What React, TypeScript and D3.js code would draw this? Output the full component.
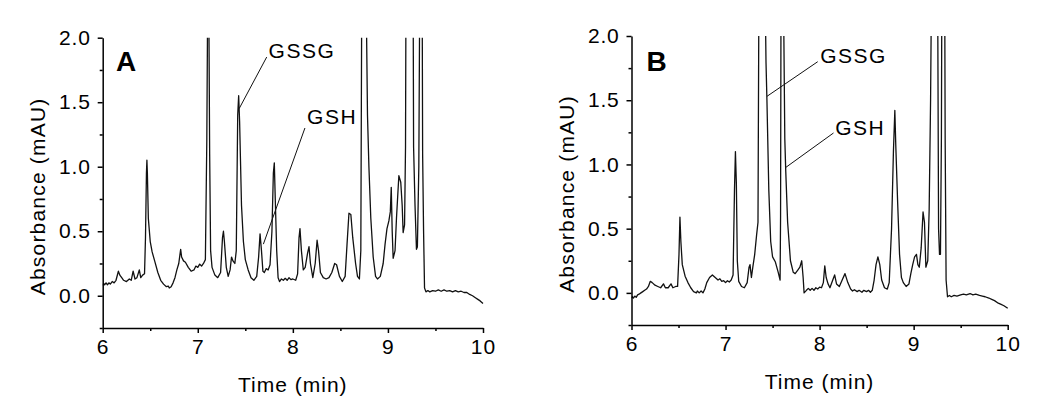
import React, { useEffect, useRef } from "react";
import * as d3 from "d3";

const W = 1050;
const H = 413;
const FONT = "Arial, 'Liberation Sans', sans-serif";

const timeTicks = [6, 7, 8, 9, 10];
const timeMinor = [6.5, 7.5, 8.5, 9.5];
const absTicks = [0, 0.5, 1.0, 1.5, 2.0];
const absMinor = [-0.25, 0.25, 0.75, 1.25, 1.75];

// electropherogram A, [time (min), absorbance (mAU)]
const traceA: [number, number][] = [
  [6.0, 0.08], [6.01, 0.095], [6.02, 0.085], [6.035, 0.1], [6.05, 0.085], [6.065, 0.1],
  [6.08, 0.09], [6.1, 0.11], [6.12, 0.1], [6.14, 0.12], [6.165, 0.19], [6.18, 0.16],
  [6.2, 0.14], [6.22, 0.12], [6.25, 0.11], [6.28, 0.13], [6.3, 0.12], [6.32, 0.19],
  [6.34, 0.13], [6.36, 0.14], [6.385, 0.2], [6.4, 0.14], [6.42, 0.16], [6.44, 0.17],
  [6.45, 0.45], [6.46, 0.95], [6.465, 1.05], [6.47, 0.95], [6.48, 0.6], [6.5, 0.42],
  [6.52, 0.34], [6.55, 0.26], [6.58, 0.18], [6.61, 0.12], [6.64, 0.09], [6.67, 0.07],
  [6.69, 0.075], [6.7, 0.06], [6.72, 0.07], [6.74, 0.1], [6.76, 0.14], [6.78, 0.2],
  [6.8, 0.25], [6.82, 0.36], [6.83, 0.3], [6.85, 0.27], [6.87, 0.26], [6.9, 0.22],
  [6.93, 0.19], [6.96, 0.2], [6.98, 0.23], [7.0, 0.22], [7.02, 0.245], [7.04, 0.23],
  [7.06, 0.25], [7.08, 0.28], [7.095, 1.2], [7.105, 2.4], [7.115, 2.4], [7.125, 1.1],
  [7.135, 0.35], [7.15, 0.22], [7.18, 0.16], [7.21, 0.14], [7.24, 0.18], [7.26, 0.45],
  [7.27, 0.5], [7.28, 0.42], [7.3, 0.22], [7.32, 0.15], [7.34, 0.2], [7.355, 0.3],
  [7.37, 0.27], [7.39, 0.25], [7.405, 0.35], [7.42, 1.4], [7.43, 1.55], [7.44, 1.35],
  [7.46, 0.7], [7.48, 0.42], [7.5, 0.28], [7.53, 0.2], [7.56, 0.14], [7.59, 0.12],
  [7.62, 0.15], [7.64, 0.3], [7.655, 0.48], [7.67, 0.35], [7.685, 0.19], [7.7, 0.18],
  [7.72, 0.21], [7.74, 0.2], [7.76, 0.24], [7.78, 0.5], [7.795, 0.95], [7.805, 1.03],
  [7.815, 0.75], [7.83, 0.35], [7.845, 0.14], [7.86, 0.11], [7.88, 0.13], [7.9, 0.12],
  [7.92, 0.135], [7.94, 0.12], [7.96, 0.14], [7.98, 0.125], [8.0, 0.13], [8.03, 0.12],
  [8.05, 0.17], [8.065, 0.45], [8.075, 0.52], [8.09, 0.35], [8.11, 0.2], [8.13, 0.22],
  [8.155, 0.33], [8.17, 0.38], [8.185, 0.25], [8.21, 0.14], [8.235, 0.25], [8.255, 0.43],
  [8.27, 0.35], [8.29, 0.18], [8.32, 0.14], [8.35, 0.13], [8.38, 0.14], [8.41, 0.18],
  [8.44, 0.25], [8.46, 0.24], [8.49, 0.15], [8.52, 0.11], [8.55, 0.15], [8.57, 0.4],
  [8.59, 0.64], [8.61, 0.63], [8.63, 0.45], [8.66, 0.25], [8.68, 0.15], [8.7, 0.13],
  [8.715, 0.35], [8.725, 2.4], [8.77, 2.4], [8.785, 1.4], [8.8, 1.0], [8.82, 0.6],
  [8.845, 0.3], [8.87, 0.15], [8.89, 0.13], [8.92, 0.15], [8.95, 0.25], [8.97, 0.4],
  [8.99, 0.52], [9.01, 0.58], [9.025, 0.65], [9.035, 0.84], [9.045, 0.5], [9.055, 0.29],
  [9.075, 0.35], [9.09, 0.6], [9.105, 0.8], [9.115, 0.93], [9.135, 0.88], [9.15, 0.7],
  [9.16, 0.49], [9.175, 0.55], [9.185, 1.15], [9.19, 2.4], [9.265, 2.4], [9.27, 1.15],
  [9.285, 0.7], [9.3, 0.36], [9.31, 0.38], [9.325, 1.0], [9.335, 2.4], [9.36, 2.4],
  [9.365, 1.1], [9.375, 0.5], [9.385, 0.06], [9.4, 0.03], [9.42, 0.04], [9.44, 0.03],
  [9.47, 0.04], [9.5, 0.035], [9.53, 0.045], [9.56, 0.035], [9.59, 0.045], [9.62, 0.035],
  [9.65, 0.04], [9.68, 0.03], [9.71, 0.04], [9.74, 0.03], [9.77, 0.035], [9.8, 0.025],
  [9.83, 0.025], [9.86, 0.01], [9.89, 0.0], [9.92, -0.015], [9.95, -0.03], [9.97, -0.04],
  [10.0, -0.06],
];

// electropherogram B
const traceB: [number, number][] = [
  [6.0, -0.04], [6.01, -0.03], [6.02, -0.04], [6.035, -0.025], [6.05, -0.035], [6.065, -0.015],
  [6.08, -0.01], [6.1, 0.0], [6.12, 0.01], [6.14, 0.02], [6.16, 0.03], [6.18, 0.05],
  [6.2, 0.09], [6.22, 0.08], [6.25, 0.06], [6.28, 0.05], [6.31, 0.04], [6.34, 0.07],
  [6.36, 0.04], [6.39, 0.04], [6.42, 0.07], [6.44, 0.04], [6.47, 0.05], [6.49, 0.05],
  [6.505, 0.3], [6.515, 0.59], [6.525, 0.4], [6.54, 0.22], [6.57, 0.13], [6.6, 0.08],
  [6.63, 0.04], [6.66, 0.01], [6.69, 0.0], [6.7, 0.015], [6.72, 0.0], [6.74, 0.015],
  [6.76, 0.0], [6.78, 0.03], [6.8, 0.08], [6.83, 0.12], [6.86, 0.14], [6.89, 0.12],
  [6.92, 0.1], [6.94, 0.11], [6.96, 0.09], [6.98, 0.095], [7.0, 0.08], [7.02, 0.095],
  [7.04, 0.085], [7.06, 0.1], [7.08, 0.14], [7.095, 0.8], [7.105, 1.1], [7.115, 0.85],
  [7.125, 0.25], [7.14, 0.09], [7.17, 0.05], [7.2, 0.04], [7.23, 0.08], [7.25, 0.2],
  [7.26, 0.22], [7.275, 0.12], [7.29, 0.2], [7.31, 0.3], [7.33, 0.45], [7.345, 0.55],
  [7.355, 2.4], [7.42, 2.4], [7.43, 1.8], [7.44, 1.5], [7.46, 0.8], [7.48, 0.4],
  [7.5, 0.28], [7.53, 0.24], [7.56, 0.16], [7.58, 0.1], [7.585, 0.6], [7.59, 2.4],
  [7.615, 2.4], [7.63, 1.2], [7.64, 0.95], [7.66, 0.55], [7.69, 0.25], [7.72, 0.16],
  [7.74, 0.15], [7.77, 0.18], [7.79, 0.2], [7.81, 0.25], [7.825, 0.12], [7.835, 0.0],
  [7.86, 0.02], [7.88, 0.035], [7.9, 0.02], [7.92, 0.035], [7.94, 0.02], [7.96, 0.04],
  [7.98, 0.03], [8.0, 0.045], [8.02, 0.04], [8.04, 0.08], [8.055, 0.21], [8.07, 0.12],
  [8.09, 0.07], [8.11, 0.04], [8.14, 0.1], [8.16, 0.14], [8.18, 0.07], [8.21, 0.05],
  [8.24, 0.1], [8.27, 0.15], [8.3, 0.08], [8.33, 0.03], [8.35, 0.015], [8.37, 0.025],
  [8.4, 0.01], [8.42, 0.02], [8.45, 0.005], [8.47, 0.02], [8.5, 0.01], [8.52, 0.02],
  [8.54, 0.005], [8.56, 0.02], [8.58, 0.1], [8.6, 0.22], [8.62, 0.28], [8.64, 0.22],
  [8.66, 0.1], [8.69, 0.04], [8.72, 0.03], [8.74, 0.08], [8.765, 0.5], [8.785, 1.1],
  [8.8, 1.42], [8.81, 1.15], [8.83, 0.7], [8.85, 0.3], [8.87, 0.12], [8.89, 0.08],
  [8.92, 0.05], [8.95, 0.07], [8.97, 0.15], [8.99, 0.22], [9.01, 0.28], [9.03, 0.3],
  [9.045, 0.22], [9.06, 0.2], [9.08, 0.35], [9.1, 0.63], [9.115, 0.55], [9.13, 0.2],
  [9.15, 0.25], [9.165, 0.65], [9.18, 1.5], [9.19, 2.4], [9.255, 2.4], [9.265, 0.5],
  [9.275, 0.3], [9.285, 0.3], [9.295, 1.2], [9.3, 2.4], [9.33, 2.4], [9.335, 1.2],
  [9.345, 0.1], [9.36, -0.03], [9.38, -0.02], [9.4, -0.03], [9.43, -0.02], [9.46, -0.025],
  [9.5, -0.015], [9.53, -0.01], [9.56, -0.015], [9.6, -0.005], [9.63, -0.015], [9.66, -0.01],
  [9.7, -0.02], [9.73, -0.025], [9.76, -0.03], [9.8, -0.04], [9.83, -0.05], [9.86, -0.06],
  [9.9, -0.08], [9.93, -0.09], [9.96, -0.1], [10.0, -0.12],
];

// peak labels: leader from peak flank to label, text position (all in data units)
const labelsA = [
  { name: "GSSG", from: [7.435, 1.45], to: [7.725, 1.85], at: [7.745, 1.84] },
  { name: "GSH", from: [7.69, 0.4], to: [8.127, 1.3], at: [8.15, 1.33] },
];
const labelsB = [
  { name: "GSSG", from: [7.44, 1.53], to: [7.98, 1.8], at: [8.006, 1.79] },
  { name: "GSH", from: [7.635, 0.974], to: [8.148, 1.245], at: [8.166, 1.23] },
];

const panels = [
  { id: "A", trace: traceA, labels: labelsA, letterAt: [6.14, 1.74],
    box: { left: 102.7, right: 483, top: 37.7, bottom: 328 } },
  { id: "B", trace: traceB, labels: labelsB, letterAt: [6.16, 1.73],
    box: { left: 631.5, right: 1007.7, top: 36, bottom: 325 } },
];

export default function App() {
  const svgRef = useRef<SVGSVGElement>(null);

  useEffect(() => {
    const svg = d3.select(svgRef.current);
    svg.selectAll("*").remove();
    svg.append("rect").attr("width", W).attr("height", H).attr("fill", "#fff");

    panels.forEach((p) => {
      const { left, right, top, bottom } = p.box;
      const x = d3.scaleLinear().domain([6, 10]).range([left, right]);
      const y = d3.scaleLinear().domain([-0.25, 2.0]).range([bottom, top]);
      const g = svg.append("g").attr("font-family", FONT);

      const clipId = `clip-${p.id}`;
      g.append("clipPath")
        .attr("id", clipId)
        .append("rect")
        .attr("x", left)
        .attr("y", top)
        .attr("width", right - left + 2)
        .attr("height", bottom - top);

      const line = d3
        .line<[number, number]>()
        .x((d) => x(d[0]))
        .y((d) => y(d[1]));

      g.append("path")
        .datum(p.trace)
        .attr("clip-path", `url(#${clipId})`)
        .attr("fill", "none")
        .attr("stroke", "#111")
        .attr("stroke-width", 1.3)
        .attr("stroke-linejoin", "round")
        .attr("d", line);

      // x axis
      g.append("g")
        .attr("transform", `translate(0,${bottom})`)
        .call(
          d3.axisBottom(x).tickValues(timeTicks).tickSize(5).tickSizeOuter(0)
            .tickPadding(6).tickFormat(d3.format("d"))
        )
        .call((s) => s.selectAll("text").attr("font-size", 21).attr("letter-spacing", 1).attr("fill", "#000"));
      g.append("g")
        .attr("transform", `translate(0,${bottom})`)
        .call(d3.axisBottom(x).tickValues(timeMinor).tickSize(3).tickFormat(() => ""))
        .call((s) => s.select(".domain").remove());

      // y axis
      g.append("g")
        .attr("transform", `translate(${left},0)`)
        .call(
          d3.axisLeft(y).tickValues(absTicks).tickSize(5).tickSizeOuter(0)
            .tickPadding(7).tickFormat(d3.format(".1f"))
        )
        .call((s) => s.selectAll("text").attr("font-size", 21).attr("letter-spacing", 0.8).attr("fill", "#000"));
      g.append("g")
        .attr("transform", `translate(${left},0)`)
        .call(d3.axisLeft(y).tickValues(absMinor).tickSize(3).tickFormat(() => ""))
        .call((s) => s.select(".domain").remove());

      g.selectAll(".domain, .tick line").attr("stroke", "#000").attr("stroke-width", 1.5);

      // axis titles
      g.append("text")
        .attr("x", (left + right) / 2)
        .attr("y", bottom + 64)
        .attr("text-anchor", "middle")
        .attr("font-size", 21)
        .attr("letter-spacing", 1)
        .text("Time (min)");
      g.append("text")
        .attr("transform", `translate(${left - 58},${y(0.77)}) rotate(-90)`)
        .attr("text-anchor", "middle")
        .attr("font-size", 21)
        .attr("letter-spacing", 1.2)
        .text("Absorbance (mAU)");

      // panel letter
      g.append("text")
        .attr("x", x(p.letterAt[0]))
        .attr("y", y(p.letterAt[1]))
        .attr("font-size", 28)
        .attr("font-weight", "bold")
        .text(p.id);

      // peak labels
      p.labels.forEach((l) => {
        g.append("line")
          .attr("x1", x(l.from[0]))
          .attr("y1", y(l.from[1]))
          .attr("x2", x(l.to[0]))
          .attr("y2", y(l.to[1]))
          .attr("stroke", "#111")
          .attr("stroke-width", 1);
        g.append("text")
          .attr("x", x(l.at[0]))
          .attr("y", y(l.at[1]))
          .attr("font-size", 21)
          .attr("letter-spacing", 1.5)
          .text(l.name);
      });
    });
  }, []);

  return (
    <svg
      ref={svgRef}
      width={W}
      height={H}
      style={{ position: "absolute", left: 0, top: 0, display: "block" }}
    />
  );
}
